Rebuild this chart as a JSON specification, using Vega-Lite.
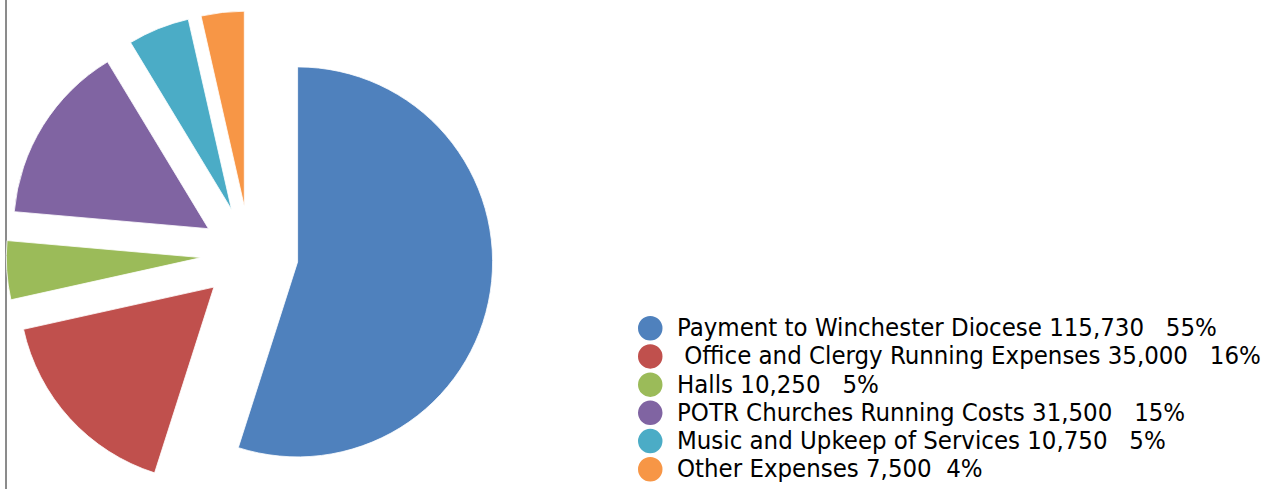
{
  "$schema": "https://vega.github.io/schema/vega-lite/v6.json",
  "autosize": {"type": "none"},
  "width": 488,
  "height": 489,
  "padding": {"left": 6, "top": 0, "right": 778, "bottom": 0},
  "background": "white",
  "config": {"view": {"stroke": null}},
  "data": {
    "values": [
      {"order": 1, "category": "Payment to Winchester Diocese 115,730\u00a0\u00a0\u00a055%", "amount": 115730},
      {"order": 2, "category": "\u200b\u00a0Office and Clergy Running Expenses 35,000\u00a0\u00a0\u00a016%", "amount": 35000},
      {"order": 3, "category": "Halls 10,250\u00a0\u00a0\u00a05%", "amount": 10250},
      {"order": 4, "category": "POTR Churches Running Costs 31,500\u00a0\u00a0\u00a015%", "amount": 31500},
      {"order": 5, "category": "Music and Upkeep of Services 10,750\u00a0\u00a0\u00a05%", "amount": 10750},
      {"order": 6, "category": "Other Expenses 7,500\u00a0\u00a04%", "amount": 7500}
    ]
  },
  "transform": [
    {"stack": "amount", "groupby": [], "as": ["s0", "s1"], "sort": [{"field": "order", "order": "ascending"}]}
  ],
  "encoding": {
    "theta": {"field": "s0", "type": "quantitative", "stack": null, "scale": {"domain": [0, 210730]}},
    "theta2": {"field": "s1"},
    "color": {
      "field": "category",
      "type": "nominal",
      "scale": {
        "domain": [
          "Payment to Winchester Diocese 115,730\u00a0\u00a0\u00a055%",
          "\u200b\u00a0Office and Clergy Running Expenses 35,000\u00a0\u00a0\u00a016%",
          "Halls 10,250\u00a0\u00a0\u00a05%",
          "POTR Churches Running Costs 31,500\u00a0\u00a0\u00a015%",
          "Music and Upkeep of Services 10,750\u00a0\u00a0\u00a05%",
          "Other Expenses 7,500\u00a0\u00a04%"
        ],
        "range": ["#4F81BD", "#C0504D", "#9BBB59", "#8064A2", "#4BACC6", "#F79646"]
      },
      "legend": {
        "title": null,
        "orient": "none",
        "legendX": 631.5,
        "legendY": 315.5,
        "padding": 0,
        "symbolType": "circle",
        "symbolSize": 600,
        "symbolStrokeWidth": 0,
        "symbolOpacity": 1,
        "labelFont": "DejaVu Sans Condensed, DejaVu Sans",
        "labelFontSize": 25.5,
        "labelColor": "#000000",
        "labelOffset": 14,
        "labelLimit": 700,
        "rowPadding": 1.2
      }
    }
  },
  "layer": [
    {
      "mark": {"type": "rule", "color": "#8c8c8c", "strokeWidth": 1.2},
      "encoding": {
        "x": {"datum": 0, "type": "quantitative", "scale": {"domain": [0, 1]}, "axis": null},
        "theta": null, "theta2": null, "color": null
      }
    },
    {
      "transform": [{"filter": "datum.order == 1"}],
      "mark": {"type": "arc", "radius": 195, "xOffset": 47.6, "yOffset": 17.4, "stroke": "white", "strokeWidth": 0.8}
    },
    {
      "transform": [{"filter": "datum.order == 2"}],
      "mark": {"type": "arc", "radius": 195, "xOffset": -36.1, "yOffset": 42.6, "stroke": "white", "strokeWidth": 0.8}
    },
    {
      "transform": [{"filter": "datum.order == 3"}],
      "mark": {"type": "arc", "radius": 195, "xOffset": -48.7, "yOffset": 13.1, "stroke": "white", "strokeWidth": 0.8}
    },
    {
      "transform": [{"filter": "datum.order == 4"}],
      "mark": {"type": "arc", "radius": 195, "xOffset": -41.5, "yOffset": -15.8, "stroke": "white", "strokeWidth": 0.8}
    },
    {
      "transform": [{"filter": "datum.order == 5"}],
      "mark": {"type": "arc", "radius": 195, "xOffset": -18.5, "yOffset": -35.1, "stroke": "white", "strokeWidth": 0.8}
    },
    {
      "transform": [{"filter": "datum.order == 6"}],
      "mark": {"type": "arc", "radius": 195, "xOffset": -5.7, "yOffset": -38.3, "stroke": "white", "strokeWidth": 0.8}
    }
  ]
}
